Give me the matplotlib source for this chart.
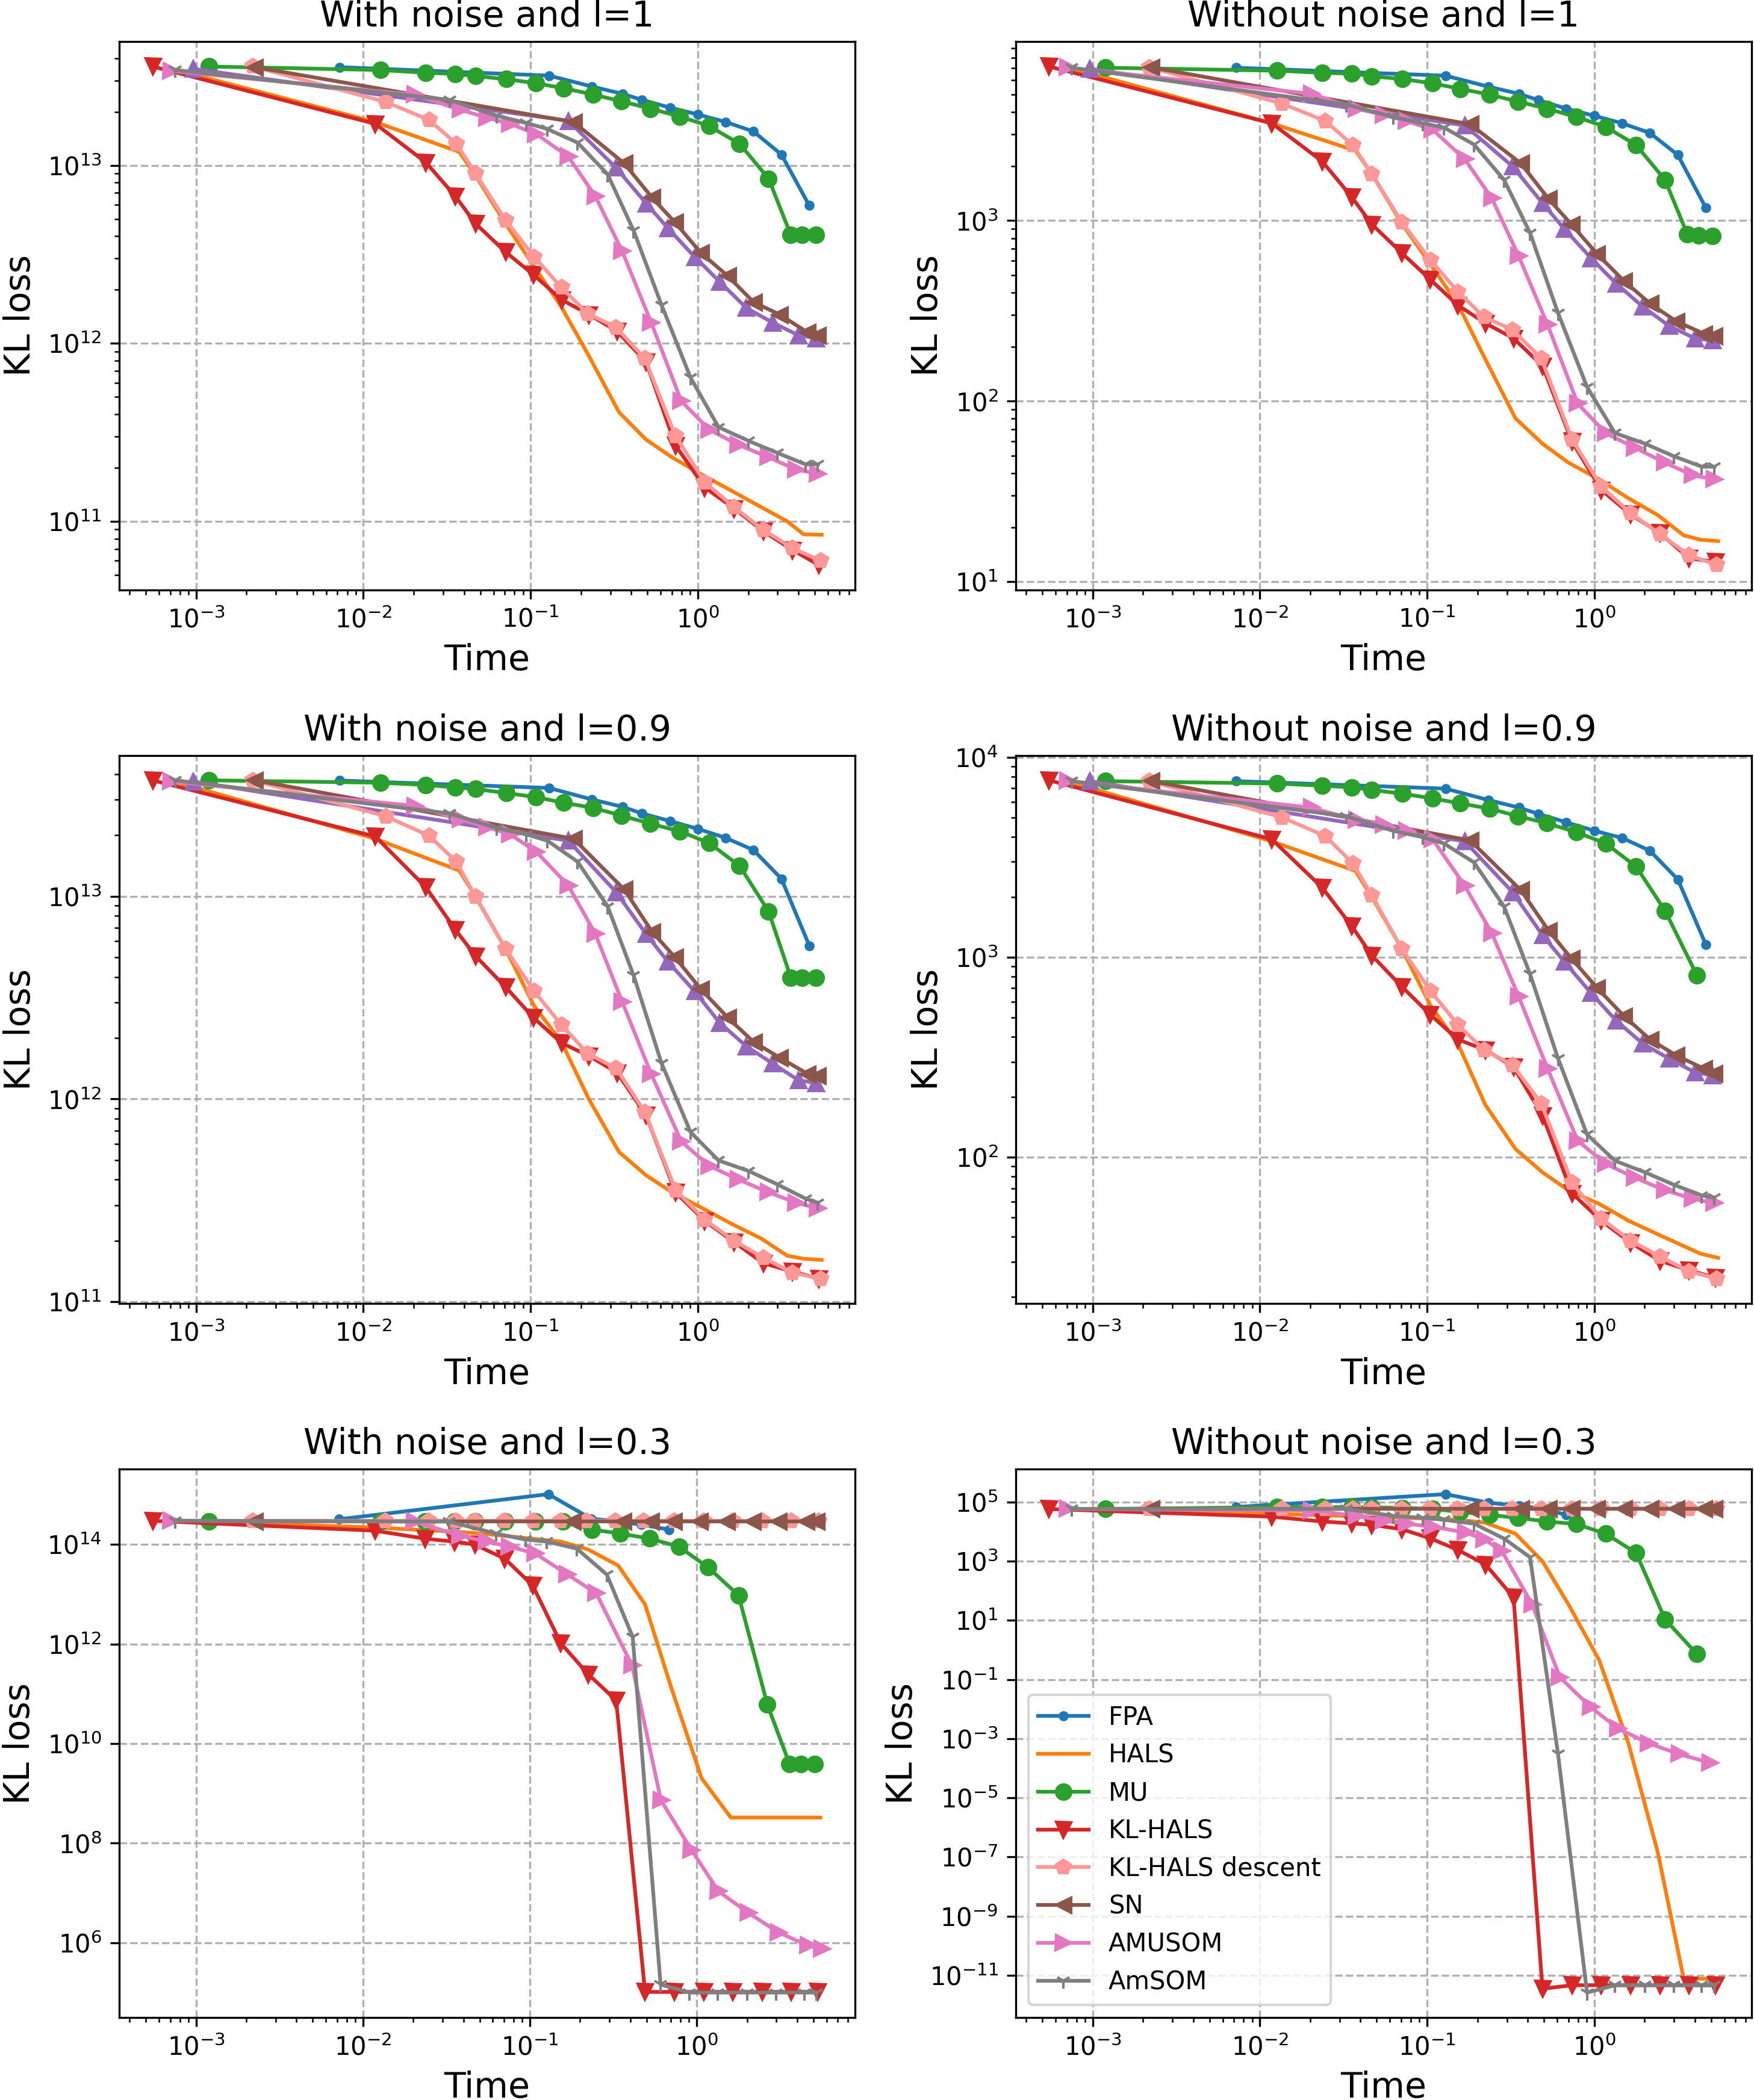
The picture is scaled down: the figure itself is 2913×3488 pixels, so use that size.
import numpy as np
import matplotlib.pyplot as plt
from matplotlib.ticker import LogLocator

# iteration times (s) per algorithm
t_fpa = [7.2e-3, 0.129, 0.233, 0.355, 0.464, 0.681, 1.0, 1.47, 2.15, 3.16, 4.64]
t_hals = [7e-4, 0.0118, 0.0374, 0.0468, 0.0708, 0.105, 0.153, 0.223, 0.338, 0.49,
          0.70, 1.07, 1.6, 2.4, 3.42, 4.3, 5.5]
t_mu = [1.19e-3, 0.0127, 0.0236, 0.0355, 0.0468, 0.0714, 0.108, 0.158, 0.236, 0.349,
        0.521, 0.782, 1.17, 1.78, 2.65, 3.6, 4.2, 5.1]
t_mu_short = [1.19e-3, 0.0127, 0.0236, 0.0355, 0.0468, 0.0714, 0.108, 0.158, 0.236, 0.349,
              0.521, 0.782, 1.17, 1.78, 2.65, 4.1]
t_klhals = [5.5e-4, 0.0118, 0.0236, 0.0355, 0.0468, 0.0708, 0.104, 0.153, 0.224, 0.329,
            0.49, 0.736, 1.10, 1.65, 2.47, 3.69, 5.29]
t_desc = [2.19e-3, 0.0136, 0.0247, 0.036, 0.0468, 0.0708, 0.105, 0.153, 0.219, 0.324,
          0.482, 0.736, 1.10, 1.65, 2.47, 3.69, 5.41]
t_other = [9.6e-4, 0.168, 0.324, 0.49, 0.66, 0.957, 1.35, 1.95, 2.79, 3.99, 5.08]
t_sn = [2.24e-3, 0.181, 0.363, 0.533, 0.73, 1.04, 1.51, 2.16, 3.09, 4.54, 5.23]
t_amusom = [7.1e-4, 0.0203, 0.038, 0.055, 0.0753, 0.108, 0.168, 0.244, 0.353, 0.526,
            0.796, 1.17, 1.75, 2.64, 3.88, 5.23]
t_amusom_p5 = [7.1e-4, 0.0203, 0.038, 0.055, 0.0753, 0.108, 0.168, 0.25, 0.41, 0.61,
               0.93, 1.35, 2.04, 3.09, 4.64, 5.6]
t_amusom_p6 = [7.1e-4, 0.0203, 0.038, 0.055, 0.0753, 0.108, 0.17, 0.22, 0.28, 0.425,
               0.622, 0.95, 1.39, 2.12, 3.22, 4.91]
t_amsom = [7.5e-4, 0.0328, 0.0627, 0.094, 0.126, 0.191, 0.289, 0.413, 0.607, 0.905,
           1.33, 2.01, 3.0, 4.4, 5.23]

# --- With noise, l=1
fpa_1 = [3.56e13, 3.19e13, 2.77e13, 2.52e13, 2.33e13, 2.11e13, 1.93e13, 1.75e13, 1.55e13, 1.15e13, 5.94e12]
hals_1 = [3.5e13, 1.75e13, 1.19e13, 8.8e12, 4.7e12, 2.7e12, 1.6e12, 8.5e11, 4.1e11, 2.88e11,
          2.29e11, 1.82e11, 1.48e11, 1.2e11, 1.0e11, 8.45e10, 8.4e10]
mu_1 = [3.59e13, 3.43e13, 3.31e13, 3.26e13, 3.17e13, 3.05e13, 2.89e13, 2.71e13, 2.50e13, 2.29e13,
        2.08e13, 1.88e13, 1.66e13, 1.32e13, 8.41e12, 4.06e12, 4.06e12, 4.06e12]
klhals_1 = [3.59e13, 1.71e13, 1.04e13, 6.7e12, 4.71e12, 3.26e12, 2.43e12, 1.76e12, 1.45e12, 1.17e12,
            7.87e11, 2.67e11, 1.55e11, 1.18e11, 8.79e10, 6.89e10, 5.69e10]
other_1 = [3.48e13, 1.78e13, 9.7e12, 6.12e12, 4.45e12, 3.06e12, 2.22e12, 1.58e12, 1.31e12, 1.11e12, 1.07e12]
desc_1 = [3.59e13, 2.27e13, 1.80e13, 1.32e13, 9.02e12, 4.92e12, 3.06e12, 2.06e12, 1.47e12, 1.23e12,
          8.22e11, 3.01e11, 1.66e11, 1.20e11, 8.93e10, 7.07e10, 6.01e10]
sn_1 = [3.56e13, 1.75e13, 1.025e13, 6.58e12, 4.78e12, 3.23e12, 2.39e12, 1.70e12, 1.45e12, 1.15e12, 1.11e12]
amusom_1 = [3.39e13, 2.49e13, 2.05e13, 1.85e13, 1.71e13, 1.5e13, 1.12e13, 6.7e12, 3.29e12, 1.31e12,
            4.74e11, 3.27e11, 2.69e11, 2.29e11, 1.95e11, 1.85e11]
amsom_1 = [3.43e13, 2.33e13, 1.9e13, 1.73e13, 1.6e13, 1.34e13, 8.89e12, 4.3e12, 1.64e12, 6.41e11,
           3.38e11, 2.83e11, 2.42e11, 2.09e11, 2.09e11]

# --- Without noise, l=1
fpa_2 = [7.03e3, 6.35e3, 5.52e3, 5.04e3, 4.65e3, 4.17e3, 3.81e3, 3.46e3, 3.06e3, 2.31e3, 1.18e3]
hals_2 = [7.1e3, 3.46e3, 2.44e3, 1.81e3, 960, 572, 344, 171, 80.4, 58.2, 45.7, 36.9, 29, 23.4, 18.1, 17.1, 16.8]
mu_2 = [7.03e3, 6.77e3, 6.59e3, 6.52e3, 6.31e3, 6.08e3, 5.76e3, 5.37e3, 4.99e3, 4.57e3,
        4.17e3, 3.75e3, 3.31e3, 2.62e3, 1.68e3, 842, 830, 824]
klhals_2 = [7.14e3, 3.46e3, 2.13e3, 1.35e3, 953, 661, 474, 340, 270, 223, 157, 59.8, 32.3, 23.6, 18.6, 13.5, 12.9]
other_2 = [6.95e3, 3.37e3, 2.0e3, 1.25e3, 903, 620, 449, 334, 262, 223, 217]
desc_2 = [7.06e3, 4.45e3, 3.56e3, 2.62e3, 1.81e3, 979, 604, 404, 293, 249, 173, 61.5, 33.7, 24, 18.4, 14, 12.4]
sn_2 = [7.06e3, 3.42e3, 2.08e3, 1.32e3, 953, 654, 462, 347, 277, 236, 230]
amusom_2 = [7.03e3, 5.04e3, 4.17e3, 3.85e3, 3.56e3, 3.19e3, 2.19e3, 1.33e3, 637, 265, 97, 66.6, 55.2, 45.7, 38.9, 36.9]
amsom_2 = [7.03e3, 4.4e3, 3.75e3, 3.46e3, 3.28e3, 2.64e3, 1.68e3, 855, 308, 120, 66.6, 58.2, 49.5, 43.4, 43.4]

# --- With noise, l=0.9
fpa_3 = [3.72e13, 3.42e13, 3.0e13, 2.76e13, 2.56e13, 2.35e13, 2.15e13, 1.94e13, 1.69e13, 1.22e13, 5.71e12]
hals_3 = [3.73e13, 1.92e13, 1.34e13, 1.0e13, 5.5e12, 2.88e12, 1.91e12, 1.0e12, 5.48e11, 4.21e11,
          3.47e11, 2.89e11, 2.42e11, 2.05e11, 1.69e11, 1.63e11, 1.61e11]
mu_3 = [3.73e13, 3.63e13, 3.54e13, 3.44e13, 3.38e13, 3.23e13, 3.08e13, 2.89e13, 2.73e13, 2.50e13,
        2.28e13, 2.09e13, 1.83e13, 1.41e13, 8.41e12, 3.97e12, 3.97e12, 3.97e12]
klhals_3 = [3.73e13, 1.97e13, 1.11e13, 6.84e12, 5.08e12, 3.57e12, 2.52e12, 1.89e12, 1.63e12, 1.35e12,
            8.33e11, 3.47e11, 2.51e11, 1.97e11, 1.55e11, 1.41e11, 1.30e11]
other_3 = [3.68e13, 1.88e13, 1.05e13, 6.52e12, 4.77e12, 3.4e12, 2.38e12, 1.82e12, 1.5e12, 1.24e12, 1.2e12]
desc_3 = [3.73e13, 2.48e13, 1.99e13, 1.48e13, 9.95e12, 5.51e12, 3.4e12, 2.32e12, 1.68e12, 1.42e12,
          8.65e11, 3.56e11, 2.54e11, 2.0e11, 1.65e11, 1.39e11, 1.30e11]
sn_3 = [3.73e13, 1.92e13, 1.08e13, 6.68e12, 5.0e12, 3.49e12, 2.52e12, 1.91e12, 1.6e12, 1.33e12, 1.30e12]
amusom_3 = [3.68e13, 2.79e13, 2.39e13, 2.19e13, 2.02e13, 1.66e13, 1.13e13, 6.52e12, 3.02e12, 1.33e12,
            6.18e11, 4.68e11, 4.01e11, 3.47e11, 3.08e11, 2.89e11]
amsom_3 = [3.73e13, 2.56e13, 2.17e13, 2.02e13, 1.88e13, 1.48e13, 8.91e12, 4.07e12, 1.5e12, 6.87e11,
           4.98e11, 4.42e11, 3.79e11, 3.23e11, 3.08e11]

# --- Without noise, l=0.9
fpa_4 = [7.6e3, 6.97e3, 6.11e3, 5.6e3, 5.21e3, 4.73e3, 4.29e3, 3.95e3, 3.41e3, 2.45e3, 1.16e3]
hals_4 = [7.6e3, 3.8e3, 2.7e3, 2.0e3, 1.1e3, 573, 370, 183, 110, 84.1, 68.4, 58.5, 48.2, 41.2, 36, 33, 31.4]
mu_4 = [7.6e3, 7.39e3, 7.21e3, 7.07e3, 6.87e3, 6.57e3, 6.23e3, 5.88e3, 5.54e3, 5.08e3,
        4.68e3, 4.22e3, 3.71e3, 2.84e3, 1.71e3, 815]
klhals_4 = [7.67e3, 3.89e3, 2.23e3, 1.43e3, 1.02e3, 712, 519, 388, 344, 283, 162, 66.1, 48.2, 37.4, 30.4, 27.2, 25]
other_4 = [7.6e3, 3.8e3, 2.12e3, 1.29e3, 953, 662, 483, 370, 312, 266, 257]
desc_4 = [7.6e3, 5.01e3, 4.03e3, 2.95e3, 2.04e3, 1.1e3, 678, 460, 344, 290, 186, 74.6, 49.3, 38.3, 31.9, 26.9, 24.7]
sn_4 = [7.6e3, 3.84e3, 2.17e3, 1.36e3, 986, 702, 507, 388, 323, 277, 263]
amusom_4 = [7.6e3, 5.6e3, 4.84e3, 4.61e3, 4.29e3, 3.89e3, 2.28e3, 1.32e3, 637, 277, 121, 92.7, 79, 68.4, 62, 59]
amsom_4 = [7.6e3, 5.08e3, 4.29e3, 3.99e3, 3.71e3, 2.98e3, 1.79e3, 824, 312, 130, 96, 84.1, 72.8, 64.4, 62.9]

# --- With noise, l=0.3 (no unlabeled purple run visible here)
fpa_5 = [3.22e14, 1.03e15, 3.3e14, 2.88e14, 2.51e14, 2.0e14]
hals_5 = [3.0e14, 2.2e14, 1.8e14, 1.7e14, 1.5e14, 1.3e14, 1.15e14, 8.0e13, 3.8e13, 6.3e12,
          1.4e11, 2.0e9, 3.28e8, 3.28e8, 3.28e8, 3.28e8, 3.28e8]
mu_5 = [2.95e14, 2.95e14, 2.95e14, 2.95e14, 2.95e14, 2.95e14, 2.95e14, 2.9e14, 2.0e14, 1.66e14,
        1.32e14, 9.1e13, 3.47e13, 9.55e12, 6.07e10, 3.87e9, 3.87e9, 3.87e9]
klhals_5 = [3.0e14, 1.9e14, 1.31e14, 1.14e14, 1.0e14, 5.2e13, 1.51e13, 1.05e12, 2.47e11, 7.42e10,
            1.03e5, 1.03e5, 1.03e5, 1.03e5, 1.03e5, 1.03e5, 1.03e5]
other_5 = []
desc_5 = [3.0e14] * 17
sn_5 = [2.95e14] * 11
amusom_5 = [3.0e14, 2.9e14, 1.51e14, 1.15e14, 9.1e13, 6.6e13, 2.5e13, 1.05e13, 3.7e11, 7.3e8,
            7.3e7, 1.08e7, 3.98e6, 1.61e6, 8.8e5, 7.6e5]
amsom_5 = [3.02e14, 2.9e14, 1.66e14, 1.26e14, 1.15e14, 8.3e13, 2.5e13, 1.4e12, 1.45e5, 1.0e5,
           1.0e5, 1.0e5, 1.0e5, 1.0e5, 1.0e5]

# --- Without noise, l=0.3
fpa_6 = [6.8e4, 1.85e5, 9.5e4, 7.4e4, 6.3e4, 3.7e4]
hals_6 = [5.8e4, 4.0e4, 3.3e4, 3.2e4, 2.9e4, 2.8e4, 2.5e4, 2.0e4, 8.5e3, 1.0e3, 35, 0.45, 7e-4,
          1.4e-7, 8e-12, 7.6e-12, 7.6e-12]
mu_6 = [5.86e4, 6.7e4, 6.7e4, 6.7e4, 6.6e4, 6.3e4, 5.85e4, 4.64e4, 3.69e4, 2.9e4,
        2.2e4, 1.8e4, 8.5e3, 1.9e3, 10.8, 0.736]
klhals_6 = [5.8e4, 3.2e4, 2.2e4, 1.9e4, 1.7e4, 1.2e4, 6.0e3, 2.4e3, 770, 60,
            3.5e-12, 4.6e-12, 4.6e-12, 4.6e-12, 4.6e-12, 4.6e-12, 4.6e-12]
other_6 = []
desc_6 = [5.9e4] * 17
sn_6 = [5.85e4] * 11
amusom_6 = [5.8e4, 5.2e4, 3.4e4, 2.33e4, 1.85e4, 1.47e4, 9.3e3, 5.5e3, 2.2e3, 34.8,
            0.12, 0.0117, 2.2e-3, 6.9e-4, 3.0e-4, 1.54e-4]
amsom_6 = [5.85e4, 5.85e4, 3.4e4, 2.93e4, 2.51e4, 1.85e4, 5.8e3, 1.36e3, 3.0e-4, 2.6e-12,
           4.6e-12, 4.6e-12, 4.6e-12, 4.6e-12, 4.6e-12]

titles = ['With noise and l=1', 'Without noise and l=1',
          'With noise and l=0.9', 'Without noise and l=0.9',
          'With noise and l=0.3', 'Without noise and l=0.3']

panels = [
    (fpa_1, hals_1, t_mu, mu_1, klhals_1, other_1, desc_1, sn_1, t_amusom, amusom_1, amsom_1),
    (fpa_2, hals_2, t_mu, mu_2, klhals_2, other_2, desc_2, sn_2, t_amusom, amusom_2, amsom_2),
    (fpa_3, hals_3, t_mu, mu_3, klhals_3, other_3, desc_3, sn_3, t_amusom, amusom_3, amsom_3),
    (fpa_4, hals_4, t_mu_short, mu_4, klhals_4, other_4, desc_4, sn_4, t_amusom, amusom_4, amsom_4),
    (fpa_5, hals_5, t_mu, mu_5, klhals_5, other_5, desc_5, sn_5, t_amusom_p5, amusom_5, amsom_5),
    (fpa_6, hals_6, t_mu_short, mu_6, klhals_6, other_6, desc_6, sn_6, t_amusom_p6, amusom_6, amsom_6),
]

fig, axes = plt.subplots(3, 2, figsize=(2913 / 300, 3488 / 300), dpi=300)
plt.subplots_adjust(left=0.068, right=0.9986, top=0.9802, bottom=0.0393,
                    wspace=0.2183, hspace=0.302)

for ax, title, p in zip(axes.flat, titles, panels):
    fpa, hals, tmu, mu, klhals, other, desc, sn, tam, amusom, amsom = p
    ax.plot(t_fpa[:len(fpa)], fpa, marker='.', color='C0', label='FPA')
    ax.plot(t_hals, hals, color='C1', label='HALS')
    ax.plot(tmu, mu, marker='o', color='C2', label='MU')
    ax.plot(t_klhals, klhals, marker='v', color='C3', label='KL-HALS')
    if other:
        ax.plot(t_other, other, marker='^', color='C4')
    ax.plot(t_desc, desc, marker='p', color='#ff9896', label='KL-HALS descent')
    ax.plot(t_sn, sn, marker='<', color='C5', label='SN')
    ax.plot(tam, amusom, marker='>', color='C6', label='AMUSOM')
    ax.plot(t_amsom, amsom, marker='1', color='C7', label='AmSOM')
    ax.set_xscale('log')
    ax.set_yscale('log')
    ax.set_title(title, fontsize=14)
    ax.set_xlabel('Time', fontsize=14)
    ax.set_ylabel('KL loss', fontsize=14)
    ax.grid(True, linestyle='--')

# every second decade on the wide-range panel
axes[2, 1].yaxis.set_major_locator(LogLocator(base=10, numticks=12))

axes[2, 1].legend(loc='lower left', fontsize=10)

fig.savefig('out.png', dpi=300)
